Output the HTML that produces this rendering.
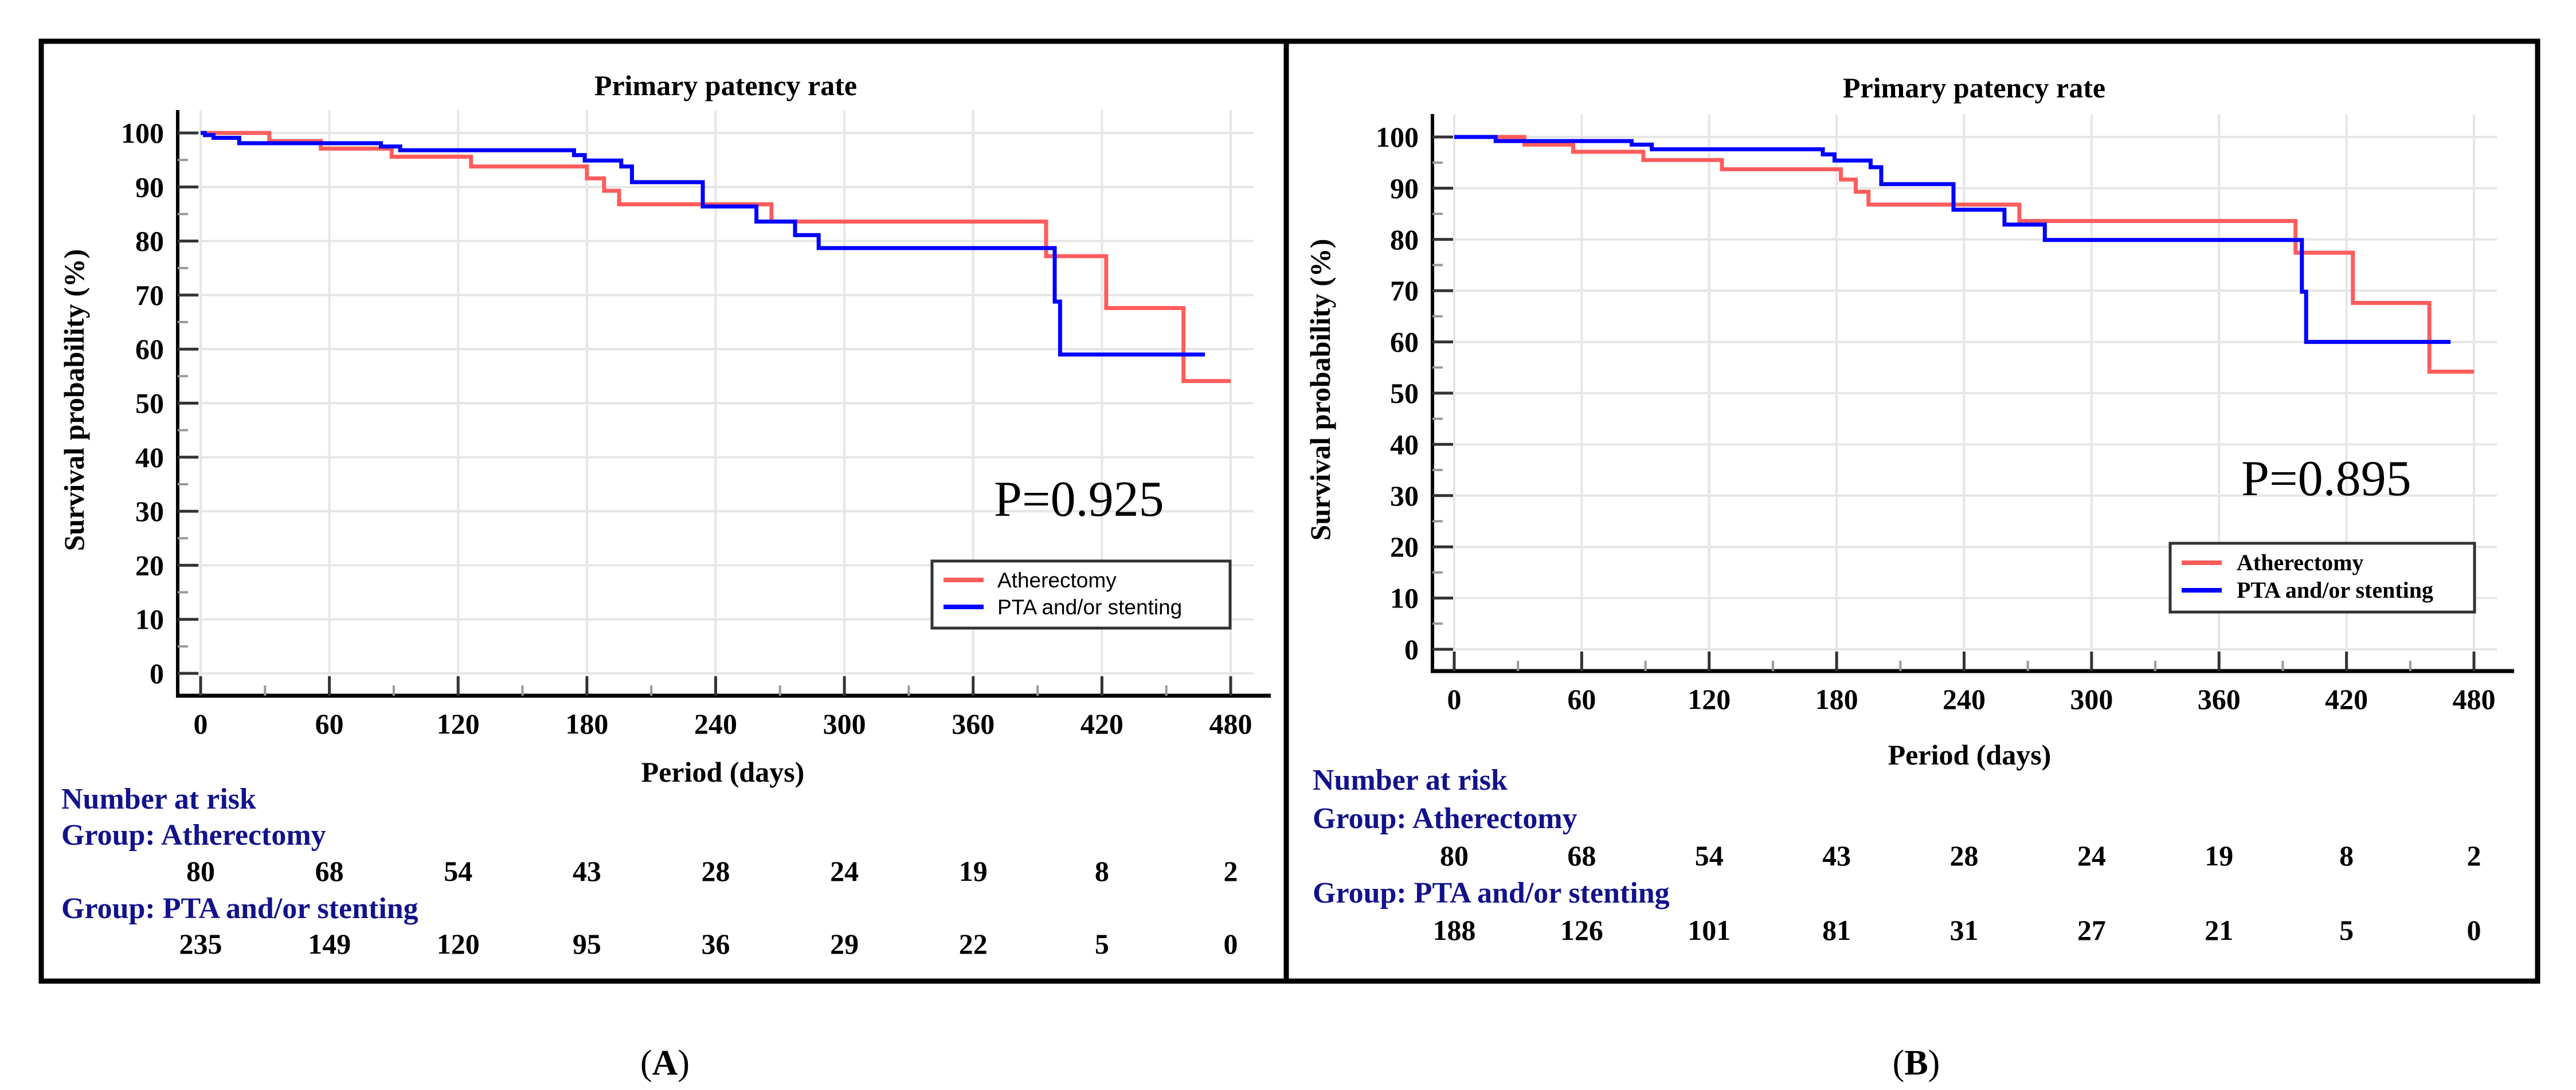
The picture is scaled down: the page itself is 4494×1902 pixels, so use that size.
<!DOCTYPE html>
<html><head><meta charset="utf-8"><style>
html,body{margin:0;padding:0;background:#fff;}
svg{display:block;}
.serif{font-family:"Liberation Serif",serif;}
.sans{font-family:"Liberation Sans",sans-serif;}
</style></head><body>
<svg id="fig" width="4494" height="1902" viewBox="0 0 4494 1902" xmlns="http://www.w3.org/2000/svg">
<rect x="72" y="72" width="2172" height="1640" fill="none" stroke="#000" stroke-width="9"/>
<rect x="2244" y="72" width="2183" height="1640" fill="none" stroke="#000" stroke-width="9"/>
<text class="serif" x="1160" y="1875" font-size="62" text-anchor="middle">(<tspan font-weight="bold">A</tspan>)</text>
<text class="serif" x="3343" y="1875" font-size="62" text-anchor="middle">(<tspan font-weight="bold">B</tspan>)</text>
<g id="pa"></g>
<g id="pb"></g>
</svg>
<script>
// ---- data ----
const xTicks = [0,60,120,180,240,300,360,420,480];
const yTicks = [0,10,20,30,40,50,60,70,80,90,100];
const groupNames = ["Atherectomy","PTA and/or stenting"];
// Panel A step curves (time in days, survival %)
const aAthT = [0,32,56,89,126,180,188,195,266,394,422,458,480];
const aAthS = [100,98.5,97.1,95.6,93.8,91.6,89.3,86.8,83.6,77.2,67.6,54.1,54.1];
const aPtaT = [0,2,6,18,84,93,174,179,196,201,234,259,277,288,398,400.5,468];
const aPtaS = [100,99.6,99.1,98.1,97.5,96.8,95.9,94.9,93.8,90.9,86.4,83.6,81.1,78.7,68.8,59.0,59.0];
const aRiskAth = [80,68,54,43,28,24,19,8,2];
const aRiskPta = [235,149,120,95,36,29,22,5,0];
const aP = "P=0.925";
// Panel B
const bAthT = [0,33,56,89,126,182,189,195,266,396,423,459,480];
const bAthS = [100,98.5,97.1,95.5,93.7,91.7,89.3,86.8,83.6,77.4,67.6,54.2,54.2];
const bPtaT = [0,19.5,83.5,93,173.5,179,196,201,235,259,278,399,401,469];
const bPtaS = [100,99.2,98.5,97.6,96.6,95.4,94.1,90.8,85.8,82.9,79.9,69.8,60.0,60.0];
const bRiskAth = [80,68,54,43,28,24,19,8,2];
const bRiskPta = [188,126,101,81,31,27,21,5,0];
const bP = "P=0.895";

const NS="http://www.w3.org/2000/svg";
function mk(parent,tag,attrs,txt){const e=document.createElementNS(NS,tag);for(const k in attrs)e.setAttribute(k,attrs[k]);if(txt!==undefined)e.textContent=txt;parent.appendChild(e);return e;}

function panel(g,cfg,athT,athS,ptaT,ptaS,riskA,riskP,pTxt){
  const X=t=>cfg.x0+(cfg.x480-cfg.x0)*t/480;
  const Y=v=>cfg.y0+(cfg.y100-cfg.y0)*v/100;
  const top=cfg.y100-40, right=cfg.x480+40;
  // gridlines
  xTicks.forEach(t=>{const l=mk(g,'line',{x1:X(t),x2:X(t),y1:top,y2:cfg.axisY,stroke:'#e6e6e6','stroke-width':4});
    
    });
  yTicks.forEach(v=>{const l=mk(g,'line',{x1:cfg.axisX,x2:right,y1:Y(v),y2:Y(v),stroke:'#e6e6e6','stroke-width':4});
    
    });
  // axes
  const ya=mk(g,'line',{x1:cfg.axisX,x2:cfg.axisX,y1:top,y2:cfg.axisY+3,stroke:'#000','stroke-width':6});
  
  
  const xa=mk(g,'line',{x1:cfg.axisX-3,x2:right+30,y1:cfg.axisY,y2:cfg.axisY,stroke:'#000','stroke-width':7});
  
  
  // y ticks
  yTicks.forEach(v=>{
    const t=mk(g,'line',{x1:cfg.axisX,x2:cfg.axisX+36,y1:Y(v),y2:Y(v),stroke:'#333','stroke-width':5});
    
    
    if(v<100){const m=mk(g,'line',{x1:cfg.axisX,x2:cfg.axisX+18,y1:Y(v+5),y2:Y(v+5),stroke:'#999','stroke-width':4});
      
      }
    const lb=mk(g,'text',{x:cfg.axisX-24,y:Y(v)+17,'text-anchor':'end','font-size':50,'font-weight':'bold',class:'serif'},String(v));
    
    
  });
  xTicks.forEach((t,i)=>{
    const tk=mk(g,'line',{x1:X(t),x2:X(t),y1:cfg.axisY-34,y2:cfg.axisY,stroke:'#333','stroke-width':5});
    
    
    if(t<480){const m=mk(g,'line',{x1:X(t+30),x2:X(t+30),y1:cfg.axisY-18,y2:cfg.axisY,stroke:'#999','stroke-width':4});
      
      }
    const lb=mk(g,'text',{x:X(t),y:cfg.axisY+66,'text-anchor':'middle','font-size':50,'font-weight':'bold',class:'serif'},String(t));
    
    
    const ra=mk(g,'text',{x:X(t),y:cfg.r1,'text-anchor':'middle','font-size':50,'font-weight':'bold',class:'serif'},String(riskA[i]));
    
    
    const rp=mk(g,'text',{x:X(t),y:cfg.r2,'text-anchor':'middle','font-size':50,'font-weight':'bold',class:'serif'},String(riskP[i]));
    
    
  });
  // curves
  function step(T,S){let d='M'+X(T[0])+' '+Y(S[0]);for(let i=1;i<T.length;i++){d+=' H'+X(T[i])+' V'+Y(S[i]);}return d;}
  const c1=mk(g,'path',{d:step(athT,athS),fill:'none',stroke:'#ff5c5c','stroke-width':7,'stroke-linejoin':'miter'});
  
  
  const c2=mk(g,'path',{d:step(ptaT,ptaS),fill:'none',stroke:'#0000ff','stroke-width':7,'stroke-linejoin':'miter'});
  
  
  // titles
  const ti=mk(g,'text',{x:cfg.titleX,y:cfg.titleY,'text-anchor':'middle','font-size':50,'font-weight':'bold',class:'serif'},'Primary patency rate');
  
  
  const yt=mk(g,'text',{x:0,y:0,transform:`translate(${cfg.yTitleX},${cfg.yTitleY}) rotate(-90)`,'text-anchor':'middle','font-size':50,'font-weight':'bold',class:'serif'},'Survival probability (%)');
  
  
  const xt=mk(g,'text',{x:cfg.xTitleX,y:cfg.xTitleY,'text-anchor':'middle','font-size':50,'font-weight':'bold',class:'serif'},'Period (days)');
  
  
  // risk table labels
  const labs=[['Number at risk',cfg.h0,'risk-table-title'],['Group: '+groupNames[0],cfg.h1,'risk-group-atherectomy-label'],['Group: '+groupNames[1],cfg.h2,'risk-group-pta-label']];
  labs.forEach(l=>{const e=mk(g,'text',{x:cfg.riskX,y:l[1],'font-size':52,'font-weight':'bold',fill:'#12128c',class:'serif'},l[0]);
    
    });
  // p value
  const p=mk(g,'text',{x:cfg.pX,y:cfg.pY,'font-size':88,class:'serif'},pTxt);
  
  
  // legend
  const L=cfg.leg;
  const box=mk(g,'rect',{x:L.x,y:L.y,width:L.w,height:L.h,fill:'#fff',stroke:'#333','stroke-width':5});
  
  
  [['#ff5c5c',groupNames[0],L.l1],['#0000ff',groupNames[1],L.l2]].forEach((e,i)=>{
    const ln=mk(g,'line',{x1:L.x+20,x2:L.x+90,y1:e[2],y2:e[2],stroke:e[0],'stroke-width':8});
    
    
    const tx=mk(g,'text',{x:L.tx,y:e[2]+13,'font-size':L.fs,'font-weight':L.fw,class:L.cls},e[1]);
    
    
  });
}
panel(document.getElementById('pa'),{x0:350,x480:2147,y0:1175,y100:232,axisX:310,axisY:1214,
  titleX:1266,titleY:166,yTitleX:146,yTitleY:698,xTitleX:1261,xTitleY:1364,
  riskX:107,h0:1411,h1:1474,r1:1537,h2:1602,r2:1664,pX:1734,pY:900,
  leg:{x:1626,y:979,w:520,h:117,l1:1012,l2:1059,tx:1740,fs:37,fw:'normal',cls:'sans'}},
  aAthT,aAthS,aPtaT,aPtaS,aRiskAth,aRiskPta,aP);
panel(document.getElementById('pb'),{x0:2537,x480:4316,y0:1133,y100:239,axisX:2499,axisY:1171,
  titleX:3444,titleY:170,yTitleX:2320,yTitleY:680,xTitleX:3436,xTitleY:1334,
  riskX:2290,h0:1378,h1:1445,r1:1510,h2:1575,r2:1640,pX:3910,pY:864,
  leg:{x:3786,y:948,w:531,h:120,l1:982,l2:1030,tx:3902,fs:40,fw:'bold',cls:'serif'}},
  bAthT,bAthS,bPtaT,bPtaS,bRiskAth,bRiskPta,bP);
</script>
</body></html>
